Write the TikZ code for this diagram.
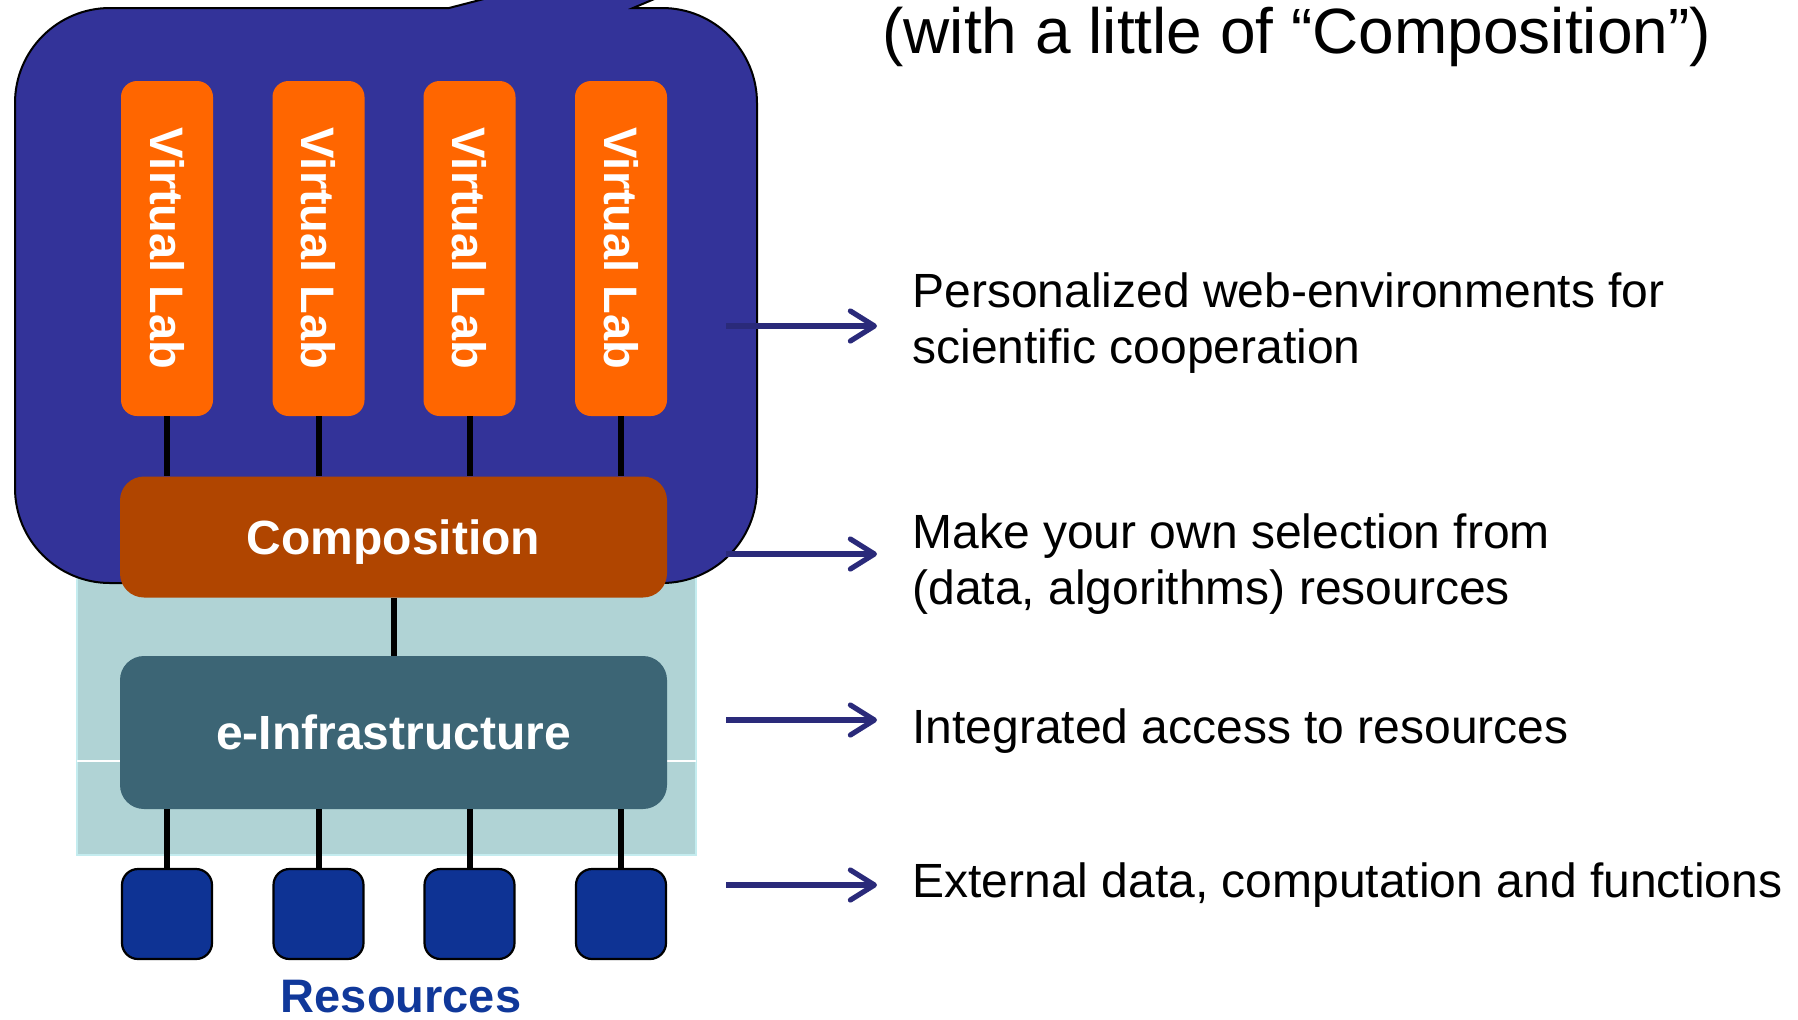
\documentclass[tikz,border=0pt]{standalone}
\usepackage{fontspec}
\setmainfont{Liberation Sans}
\usetikzlibrary{arrows.meta}

\definecolor{cloudblue}{HTML}{333399}
\definecolor{laborange}{HTML}{FF6600}
\definecolor{comporange}{HTML}{B04500}
\definecolor{infrateal}{HTML}{3C6575}
\definecolor{panelteal}{HTML}{B0D3D5}
\definecolor{paneledge}{HTML}{C4ECEF}
\definecolor{resblue}{HTML}{0E3394}
\definecolor{restext}{HTML}{10389A}
\definecolor{arrownavy}{HTML}{2A2A7A}

\begin{document}
\begin{tikzpicture}[x=0.5pt, y=-0.5pt,
  lab/.style={fill=laborange, rounded corners=8pt, minimum width=46pt,
    minimum height=167.5pt, inner sep=0pt, text=white,
    font=\fontsize{23.5}{28}\selectfont\bfseries},
  layer/.style={rounded corners=12pt, minimum width=273.5pt, inner sep=0pt,
    text=white, text depth=0pt, font=\fontsize{24}{28}\selectfont\bfseries},
  resbox/.style={fill=resblue, draw=black, line width=1.1pt, rounded corners=8pt,
    minimum width=45pt, minimum height=45pt, inner sep=0pt},
  link/.style={draw=black, line width=3pt},
  desc/.style={anchor=base west, inner sep=0pt, font=\fontsize{24}{28}\selectfont},
  pointer/.style={draw=arrownavy, line width=2.6pt,
    -{Straight Barb[length=12pt, width=15pt, round]}},
]
\useasboundingbox (0,0) rectangle (1798,1019);
\begin{scope}
\clip (0,0) rectangle (1798,1019);

% light panel behind the lower layers
\draw[fill=panelteal, draw=paneledge, line width=1pt] (77,470) rectangle (696,855);
\draw[white, line width=0.6pt] (77,761) -- (696,761);

% balloon holding the virtual labs
\filldraw[fill=cloudblue, draw=black, line width=1pt]
  (449,8) -- (925,-115) -- (633,8) -- (662,8)
  arc[start angle=90, end angle=0, radius=47.5pt] -- (757,488)
  arc[start angle=0, end angle=-90, radius=47.5pt] -- (110,583)
  arc[start angle=-90, end angle=-180, radius=47.5pt] -- (15,103)
  arc[start angle=180, end angle=90, radius=47.5pt] -- cycle;
\end{scope}

% virtual labs
\node[lab] (lab1) at (167,248.5) {\rotatebox{-90}{Virtual Lab}};
\node[lab] (lab2) at (318.5,248.5) {\rotatebox{-90}{Virtual Lab}};
\node[lab] (lab3) at (469.5,248.5) {\rotatebox{-90}{Virtual Lab}};
\node[lab] (lab4) at (621,248.5) {\rotatebox{-90}{Virtual Lab}};

% composition and infrastructure layers
\node[layer, fill=comporange, minimum height=60.5pt] (comp) at (393.5,537) {Composition};
\node[layer, fill=infrateal, minimum height=76.5pt] (infra) at (393.5,732.5) {e-Infrastructure};

% resources
\node[resbox] (res1) at (167,914) {};
\node[resbox] (res2) at (318.5,914) {};
\node[resbox] (res3) at (469.5,914) {};
\node[resbox] (res4) at (621,914) {};
\node[anchor=base, inner sep=0pt, text=restext,
  font=\fontsize{23.5}{28}\selectfont\bfseries] (reslabel) at (401,1012) {Resources};

% connections between the layers
\foreach \i in {1,2,3,4} {
  \path[link] (lab\i.south) -- (lab\i.south |- comp.north);
  \path[link] (res\i.north) -- (res\i.north |- infra.south);
}
\path[link] (comp.south) -- (infra.north);

% captions
\node[anchor=base west, inner sep=0pt, font=\fontsize{32}{38}\selectfont] (title)
  at (882,53) {(with a little of “Composition”)};
\node[desc] (d1) at (912,307) {\begin{tabular}[t]{@{}l@{}}Personalized web-environments for\\ scientific cooperation\end{tabular}};
\node[desc] (d2) at (912,548) {\begin{tabular}[t]{@{}l@{}}Make your own selection from\\ (data, algorithms) resources\end{tabular}};
\node[desc] (d3) at (912,743) {Integrated access to resources};
\node[desc] (d4) at (912,897) {External data, computation and functions};

% arrows towards the captions
\coordinate (a1s) at (726,326); \coordinate (a1e) at (877,326);
\coordinate (a2s) at (726,554); \coordinate (a2e) at (877,554);
\coordinate (a3s) at (726,720); \coordinate (a3e) at (877,720);
\coordinate (a4s) at (726,885); \coordinate (a4e) at (877,885);
\draw[pointer] (a1s) -- (a1e);
\draw[pointer] (a2s) -- (a2e);
\draw[pointer] (a3s) -- (a3e);
\draw[pointer] (a4s) -- (a4e);
\end{tikzpicture}
\end{document}
